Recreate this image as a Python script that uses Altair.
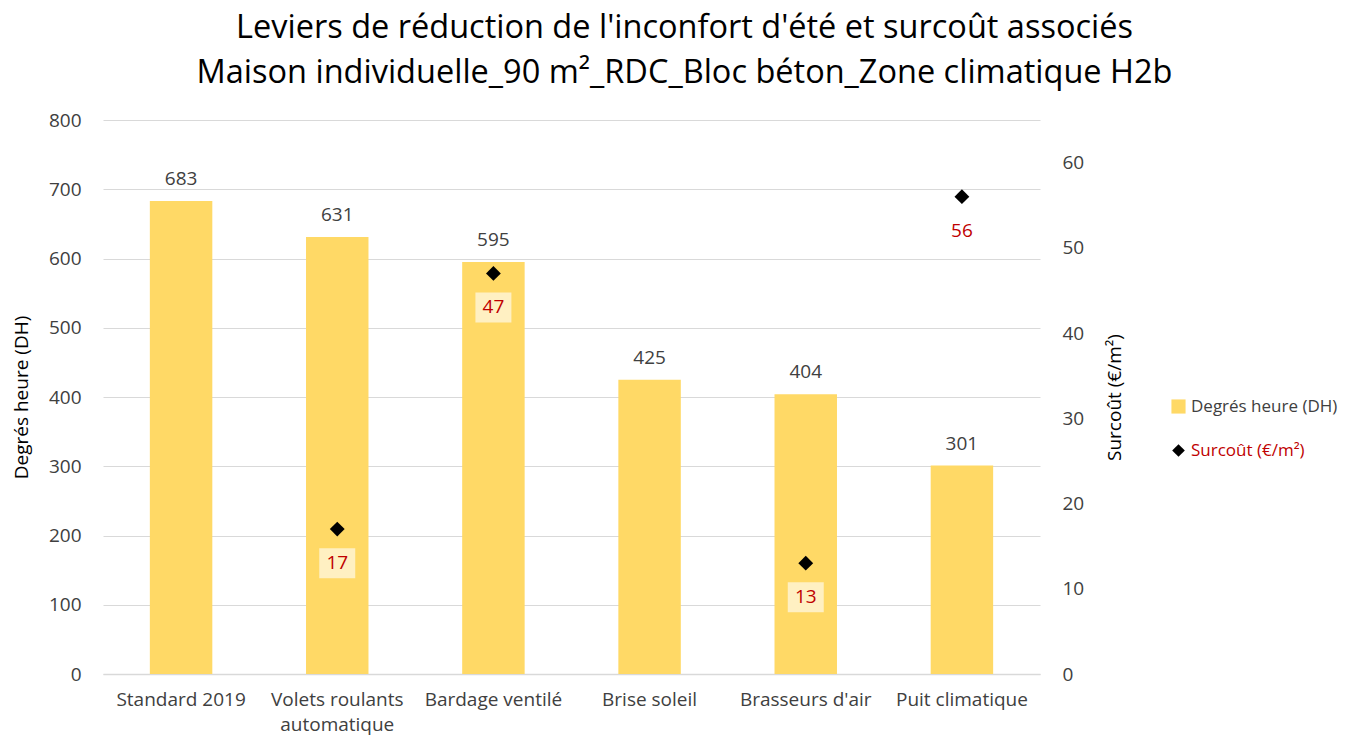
import altair as alt
import pandas as pd

categories = ["Standard 2019", "Volets roulants automatique", "Bardage ventilé",
              "Brise soleil", "Brasseurs d'air", "Puit climatique"]
degres_heure = [683, 631, 595, 425, 404, 301]
surcout_cats = ["Volets roulants automatique", "Bardage ventilé", "Brasseurs d'air", "Puit climatique"]
surcout_vals = [17, 47, 13, 56]

FONT = "Open Sans"
BAR = "#FFD966"
RED = "#C00000"
GRAY = "#404040"

df_bar = pd.DataFrame({"cat": categories, "dh": degres_heure,
                       "serie": ["Degrés heure (DH)"] * len(categories)})
df_pt = pd.DataFrame({"cat": surcout_cats, "cost": surcout_vals,
                      "serie": ["Surcoût (€/m²)"] * len(surcout_cats)})

xenc = alt.X("cat:N", sort=categories, title=None,
             scale=alt.Scale(paddingInner=0.6, paddingOuter=0.3),
             axis=alt.Axis(labelAngle=0, labelFont=FONT, labelFontSize=19, labelColor=GRAY,
                           labelPadding=16, ticks=False, domainColor="#D9D9D9", domainWidth=1.5,
                           labelLimit=300, labelLineHeight=25,
                           labelExpr="length(datum.label) > 20 ? ['Volets roulants', 'automatique'] : datum.label"))

yleft = alt.Y("dh:Q", title="Degrés heure (DH)",
              scale=alt.Scale(domain=[0, 800]),
              axis=alt.Axis(values=list(range(0, 801, 100)), labelFont=FONT, labelFontSize=19,
                            labelColor=GRAY, ticks=False, domain=False, labelPadding=22,
                            gridColor="#D9D9D9", gridWidth=1.2, titleFont=FONT, titleFontSize=19,
                            titleFontWeight="normal", titleColor="#000000", titlePadding=17))

bars = alt.Chart(df_bar).mark_bar(color=BAR).encode(
    x=xenc, y=yleft,
    color=alt.Color("serie:N", scale=alt.Scale(domain=["Degrés heure (DH)"], range=[BAR]),
                    legend=alt.Legend(title=None, orient="none", legendX=1067, legendY=278,
                                      labelFont=FONT, labelFontSize=17, labelColor=GRAY,
                                      symbolType="square", symbolSize=200, symbolStrokeWidth=0)))

bar_text = alt.Chart(df_bar).mark_text(baseline="bottom", dy=-12, font=FONT, fontSize=19,
                                       color=GRAY).encode(
    x=alt.X("cat:N", sort=categories), y=alt.Y("dh:Q"), text="dh:Q")

left = alt.layer(bars, bar_text)

yright = alt.Y("cost:Q", title="Surcoût (€/m²)",
               scale=alt.Scale(domain=[0, 65]),
               axis=alt.Axis(orient="right", values=list(range(0, 61, 10)), labelFont=FONT,
                             labelFontSize=19, labelColor=GRAY, ticks=False, domain=False,
                             grid=False, labelPadding=22, titleFont=FONT, titleFontSize=19,
                             titleFontWeight="normal", titleColor="#000000", titlePadding=41,
                             titleAngle=270))

boxes = alt.Chart(df_pt).mark_point(
    shape="M-1.2,1.27H1.2V3.27H-1.2Z", size=900, filled=True, fill="white",
    fillOpacity=0.6, strokeWidth=0).encode(x=alt.X("cat:N", sort=categories), y=yright)

points = alt.Chart(df_pt).mark_point(filled=True, color="black", size=220, opacity=1).encode(
    x=alt.X("cat:N", sort=categories), y=alt.Y("cost:Q"),
    shape=alt.Shape("serie:N", scale=alt.Scale(domain=["Surcoût (€/m²)"], range=["diamond"]),
                    legend=alt.Legend(title=None, orient="none", legendX=1067, legendY=322,
                                      labelFont=FONT, labelFontSize=17, labelColor=RED,
                                      symbolFillColor="black", symbolSize=160)))

pt_text = alt.Chart(df_pt).mark_text(dy=34, font=FONT, fontSize=19, color=RED).encode(
    x=alt.X("cat:N", sort=categories), y=alt.Y("cost:Q"), text="cost:Q")

right = alt.layer(boxes, points, pt_text)

chart = alt.layer(left, right).resolve_scale(y="independent", color="independent",
                                              shape="independent").properties(
    width=937, height=554,
    autosize=alt.AutoSizeParams(type="none"),
    padding={"left": 95, "top": 112, "right": 318, "bottom": 65},
    title=alt.TitleParams(
        text="Leviers de réduction de l'inconfort d'été et surcoût associés",
        subtitle="Maison individuelle_90 m²_RDC_Bloc béton_Zone climatique H2b",
        font=FONT, fontSize=32.5, fontWeight="normal", color="#000000",
        subtitleFont=FONT, subtitleFontSize=32.5, subtitleColor="#000000",
        subtitleFontWeight="normal", subtitlePadding=12,
        anchor="middle", dx=113, offset=22),
).configure_view(stroke=None)

chart.save("out.html", embed_options={"renderer": "svg", "actions": False})
